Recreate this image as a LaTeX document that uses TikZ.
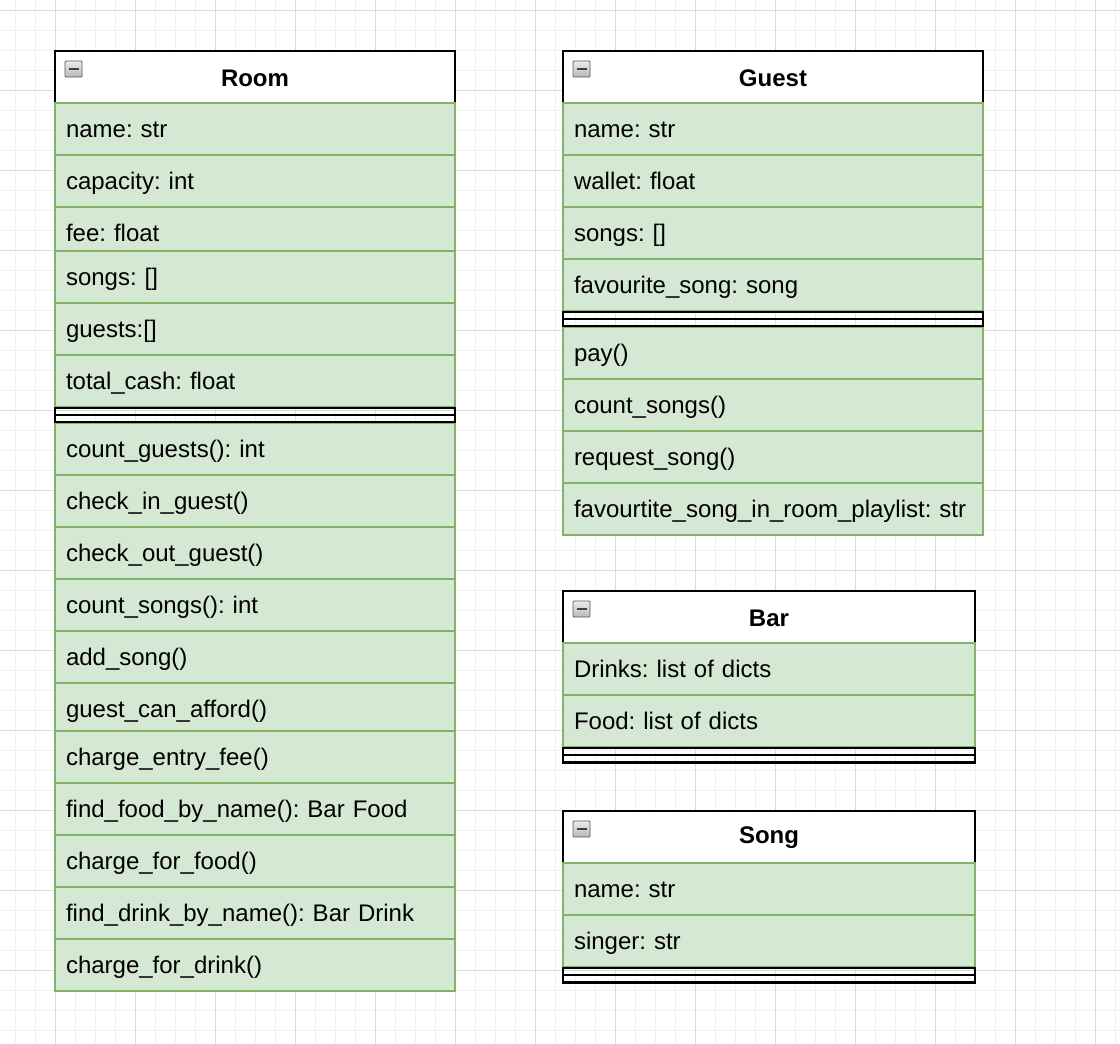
\documentclass[tikz,border=0pt]{standalone}
\usepackage{fontspec}
\setmainfont{Liberation Sans}
\usepackage{tikz}
\frenchspacing
\definecolor{rowfill}{HTML}{D5E8D4}
\definecolor{rowline}{HTML}{82B366}
\definecolor{gridminor}{HTML}{F0F0F0}
\definecolor{gridmajor}{HTML}{DCDCDC}
\tikzset{
  classbox/.style={draw=black,line width=2pt},
  title/.style={font=\fontsize{24}{28}\selectfont\bfseries},
  row/.style={draw=rowline,fill=rowfill,line width=2pt,anchor=north west,outer sep=0pt,
    inner xsep=11pt,inner ysep=0pt,text height=34pt,text depth=18pt,align=left,
    font=\fontsize{24}{28}\selectfont},
  roomrow/.style={row,text width=378pt},
  guestrow/.style={row,text width=398pt},
  barrow/.style={row,text width=390pt},
  sepbox/.style={draw=black,line width=2pt},
  foldicon/.style={draw=gray!70!black,line width=0.8pt,top color=gray!15,bottom color=gray!55}
}
\newcommand{\foldmark}[2]{% small collapse icon at top left of a class
  \path[foldicon,rounded corners=1pt] (#1,#2) rectangle ++(17,16);
  \draw[line width=2.2pt,black!75] (#1+3.5,#2+8) -- ++(10,0);}
\begin{document}
\begin{tikzpicture}[x=1pt,y=-1pt]
\useasboundingbox[fill=white] (0,0) rectangle (1120,1044);

% grid
\foreach \gx in {15,35,...,1115} \draw[gridminor,line width=1pt] (\gx,0) -- (\gx,1044);
\foreach \gy in {10,30,...,1040} \draw[gridminor,line width=1pt] (0,\gy) -- (1120,\gy);
\foreach \gx in {55,135,...,1115} \draw[gridmajor,line width=1pt] (\gx,0) -- (\gx,1044);
\foreach \gy in {10,90,...,1040} \draw[gridmajor,line width=1pt] (0,\gy) -- (1120,\gy);

% class frames with white headers
\path[classbox,fill=white] (55,51) rectangle (455,103);
\draw[classbox] (55,51) rectangle (455,991);
\path[classbox,fill=white] (563,51) rectangle (983,103);
\draw[classbox] (563,51) rectangle (983,535);
\path[classbox,fill=white] (563,591) rectangle (975,643);
\draw[classbox] (563,591) rectangle (975,763);
\path[classbox,fill=white] (563,811) rectangle (975,863);
\draw[classbox] (563,811) rectangle (975,983);

\node[title] (room) at (255,78) {Room};
\node[title] (guest) at (773,78) {Guest};
\node[title] (bar) at (769,618) {Bar};
\node[title] (song) at (769,838) {Song};
\foldmark{65}{61}
\foldmark{573}{61}
\foldmark{573}{601}
\foldmark{573}{821}

% Room
\path node[roomrow] (room-name) at (55,103) {name: str}
      node[roomrow] (room-capacity) at (55,155) {capacity: int}
      node[roomrow,text depth=10pt] (room-fee) at (55,207) {fee: float}
      node[roomrow] (room-songs) at (55,251) {songs: []}
      node[roomrow] (room-guests) at (55,303) {guests:[]}
      node[roomrow] (room-cash) at (55,355) {total\_cash: float}
      node[roomrow] (room-count-guests) at (55,423) {count\_guests(): int}
      node[roomrow] (room-check-in) at (55,475) {check\_in\_guest()}
      node[roomrow] (room-check-out) at (55,527) {check\_out\_guest()}
      node[roomrow] (room-count-songs) at (55,579) {count\_songs(): int}
      node[roomrow] (room-add-song) at (55,631) {add\_song()}
      node[roomrow,text depth=14pt] (room-afford) at (55,683) {guest\_can\_afford()}
      node[roomrow] (room-entry-fee) at (55,731) {charge\_entry\_fee()}
      node[roomrow] (room-find-food) at (55,783) {find\_food\_by\_name(): Bar Food}
      node[roomrow] (room-charge-food) at (55,835) {charge\_for\_food()}
      node[roomrow] (room-find-drink) at (55,887) {find\_drink\_by\_name(): Bar Drink}
      node[roomrow] (room-charge-drink) at (55,939) {charge\_for\_drink()};
\draw[sepbox] (55,408) rectangle (455,422);
\draw[sepbox] (55,415) -- (455,415);

% Guest
\path node[guestrow] (guest-name) at (563,103) {name: str}
      node[guestrow] (guest-wallet) at (563,155) {wallet: float}
      node[guestrow] (guest-songs) at (563,207) {songs: []}
      node[guestrow] (guest-fav) at (563,259) {favourite\_song: song}
      node[guestrow] (guest-pay) at (563,327) {pay()}
      node[guestrow] (guest-count) at (563,379) {count\_songs()}
      node[guestrow] (guest-request) at (563,431) {request\_song()}
      node[guestrow] (guest-fav-in-room) at (563,483) {favourtite\_song\_in\_room\_playlist: str};
\draw[sepbox] (563,312) rectangle (983,326);
\draw[sepbox] (563,319) -- (983,319);

% Bar
\path node[barrow] (bar-drinks) at (563,643) {Drinks: list of dicts}
      node[barrow] (bar-food) at (563,695) {Food: list of dicts};
\draw[sepbox] (563,748) rectangle (975,762);
\draw[sepbox] (563,755) -- (975,755);

% Song
\path node[barrow] (song-name) at (563,863) {name: str}
      node[barrow] (song-singer) at (563,915) {singer: str};
\draw[sepbox] (563,968) rectangle (975,982);
\draw[sepbox] (563,975) -- (975,975);
\end{tikzpicture}
\end{document}
